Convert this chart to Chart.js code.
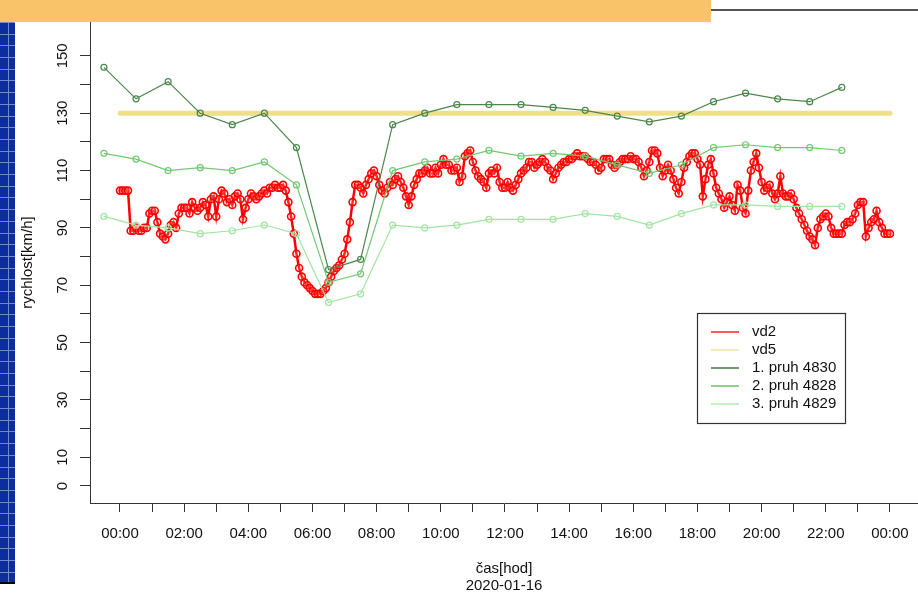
<!DOCTYPE html>
<html><head><meta charset="utf-8">
<script src="https://cdn.jsdelivr.net/npm/chart.js@4.4.1/dist/chart.umd.min.js"></script>
<style>
html,body{margin:0;padding:0;background:#fff;width:918px;height:595px;overflow:hidden;}
#wrap{position:relative;width:918px;height:595px;}
#c{position:absolute;left:0;top:0;}
#topbar{position:absolute;left:0;top:0;width:711px;height:22px;background:#f8c369;}
#topline{position:absolute;left:711px;top:9px;width:207px;height:2px;background:#555;}
#strip{position:absolute;left:0;top:22px;width:15px;height:560px;background-color:#0b2d9e;
background-image:repeating-linear-gradient(to bottom, rgba(130,150,215,0.85) 0 1px, transparent 1px 11.7px),
linear-gradient(to right, transparent 0 8px, rgba(130,150,215,0.85) 8px 9px, transparent 9px);}
#stripEnd{position:absolute;left:0;top:582px;width:15px;height:2px;background:#000;}
</style></head>
<body><div id="wrap">
<canvas id="c" width="918" height="595"></canvas>
<div id="topbar"></div><div id="topline"></div><div id="strip"></div><div id="stripEnd"></div>
</div>
<script>
// ---- data ----
const vd2StepMinutes = 5;
const vd2Values = [
103,103,103,103,89,89,90,89,89,90,90,95,
96,96,92,88,87,86,88,91,92,90,95,97,
97,97,95,99,97,96,97,99,98,94,100,101,
94,100,103,102,99,100,98,101,102,100,93,97,
100,102,101,100,101,102,103,102,104,104,105,104,
104,105,103,99,94,88,81,76,73,71,70,69,
68,67,67,67,68,69,71,73,75,76,77,79,
81,86,92,99,105,105,104,102,105,107,109,110,
108,105,103,102,104,106,105,107,108,106,104,101,
98,101,105,107,109,109,110,111,109,109,111,109,
112,114,112,112,110,110,111,106,108,115,116,117,
113,110,108,107,106,104,109,110,109,111,106,104,
104,106,104,103,105,107,109,110,111,113,113,111,
112,113,114,113,111,110,107,109,111,112,113,113,
114,114,115,116,115,115,115,114,113,113,112,110,
111,114,114,114,112,111,112,113,114,114,114,115,
114,114,113,111,108,110,113,117,117,116,111,108,
110,112,110,107,104,102,106,111,113,115,116,116,
114,112,101,107,112,114,109,104,102,100,97,99,
101,98,96,105,103,97,95,103,110,113,116,111,
106,103,104,105,102,100,102,108,102,101,101,102,
100,97,95,93,91,89,87,86,84,90,93,94,
95,94,90,88,88,88,88,91,92,92,93,95,
98,99,99,87,90,92,93,96,92,90,88,88,
88];
const vd5Hours = [0, 24];
const vd5Values = [130, 130];
const pruhHours = [-0.5,0.5,1.5,2.5,3.5,4.5,5.5,6.5,7.5,8.5,9.5,10.5,11.5,12.5,13.5,14.5,15.5,16.5,17.5,18.5,19.5,20.5,21.5,22.5];
const pruh4830 = [146,135,141,130,126,130,118,75.5,79,126,130,133,133,133,132,131,129,127,129,134,137,135,134,139];
const pruh4828 = [116,114,110,111,110,113,105,71,74,110,113,114,117,115,116,115,112,109,112,118,119,118,118,117];
const pruh4829 = [94,91,90,88,89,91,88,64,67,91,90,91,93,93,93,95,94,91,95,98,98,97.5,97.5,97.5];
const xTickHours = [0,1,2,3,4,5,6,7,8,9,10,11,12,13,14,15,16,17,18,19,20,21,22,23,24];
const xTickLabels = ['00:00','','02:00','','04:00','','06:00','','08:00','','10:00','','12:00','','14:00','','16:00','','18:00','','20:00','','22:00','','00:00'];
const yTickValues = [0,10,20,30,40,50,60,70,80,90,100,110,120,130,140,150];
const yTickLabels = ['0','10','','30','','50','','70','','90','','110','','130','','150'];
const seriesNames = ['vd2','vd5','1. pruh 4830','2. pruh 4828','3. pruh 4829'];
const yTitle = 'rychlost[km/h]';
const xTitle = 'čas[hod]';
const xSubTitle = '2020-01-16';

// ---- styles ----
const FONT = '"Liberation Sans", Arial, Helvetica, sans-serif';
Chart.defaults.font.family = FONT;
const colors = ['#ff0000', '#efde8a', '#4b874b', '#72c872', '#a2e4a2'];
const legendColors = ['#ff2020', '#f0e2a8', '#3f7a3f', '#66c466', '#aeeeae'];

const toXY = (xs, ys) => ys.map((v, i) => ({x: xs[i], y: v}));
const vd2Hours = vd2Values.map((_, i) => i * vd2StepMinutes / 60);

const overlay = {
  id: 'overlay',
  afterDraw(chart) {
    const ctx = chart.ctx, ys = chart.scales.y, a = chart.chartArea;
    ctx.save();
    ctx.fillStyle = '#111';
    ctx.font = '15px ' + FONT;
    ctx.textAlign = 'center';
    ctx.textBaseline = 'middle';
    yTickValues.forEach((v, i) => {
      const lbl = yTickLabels[i];
      if (!lbl) return;
      const py = ys.getPixelForValue(v);
      ctx.save(); ctx.translate(63, py); ctx.rotate(-Math.PI / 2); ctx.fillText(lbl, 0, 0); ctx.restore();
    });
    ctx.save(); ctx.translate(28, (a.top + a.bottom) / 2); ctx.rotate(-Math.PI / 2); ctx.fillText(yTitle, 0, 0); ctx.restore();
    const cx = (a.left + a.right) / 2;
    ctx.fillText(xTitle, cx, 569);
    ctx.fillText(xSubTitle, cx, 586);
    // legend
    const lx = 697, ly = 313, lw = 148, lh = 110;
    ctx.fillStyle = '#fff';
    ctx.fillRect(lx, ly, lw, lh);
    ctx.strokeStyle = '#333'; ctx.lineWidth = 1.2;
    ctx.strokeRect(lx + 0.5, ly + 0.5, lw, lh);
    ctx.textAlign = 'left';
    seriesNames.forEach((n, i) => {
      const yy = 332 + i * 18;
      ctx.strokeStyle = legendColors[i]; ctx.lineWidth = 1.5;
      ctx.beginPath(); ctx.moveTo(711, yy); ctx.lineTo(739, yy); ctx.stroke();
      ctx.fillStyle = '#111';
      ctx.fillText(n, 752, yy);
    });
    ctx.restore();
  }
};

new Chart(document.getElementById('c'), {
  type: 'line',
  data: {
    datasets: [
      {label: seriesNames[0], data: toXY(vd2Hours, vd2Values), order: 5,
       borderColor: colors[0], borderWidth: 2.5, pointRadius: 3.5, pointBorderWidth: 1.6,
       pointBorderColor: colors[0], pointBackgroundColor: 'rgba(255,255,255,0.15)', tension: 0},
      {label: seriesNames[1], data: toXY(vd5Hours, vd5Values), order: 4,
       borderColor: colors[1], borderWidth: 5, borderCapStyle: 'round', pointRadius: 0, tension: 0},
      {label: seriesNames[2], data: toXY(pruhHours, pruh4830), order: 3,
       borderColor: colors[2], borderWidth: 1.2, pointRadius: 3, pointBorderWidth: 1.2,
       pointBorderColor: colors[2], pointBackgroundColor: 'rgba(0,0,0,0)', tension: 0},
      {label: seriesNames[3], data: toXY(pruhHours, pruh4828), order: 2,
       borderColor: colors[3], borderWidth: 1.2, pointRadius: 3, pointBorderWidth: 1.2,
       pointBorderColor: colors[3], pointBackgroundColor: 'rgba(0,0,0,0)', tension: 0},
      {label: seriesNames[4], data: toXY(pruhHours, pruh4829), order: 1,
       borderColor: colors[4], borderWidth: 1.2, pointRadius: 3, pointBorderWidth: 1.2,
       pointBorderColor: colors[4], pointBackgroundColor: 'rgba(0,0,0,0)', tension: 0}
    ]
  },
  options: {
    responsive: false,
    animation: false,
    events: [],
    layout: {autoPadding: false, padding: {top: 22, left: 0, right: 0, bottom: 0}},
    plugins: {legend: {display: false}, tooltip: {enabled: false}, title: {display: false}},
    scales: {
      x: {
        type: 'linear', position: 'bottom', min: -0.935, max: 24.875,
        grid: {display: true, drawOnChartArea: false, drawTicks: true, tickLength: 9, color: '#333', lineWidth: 1},
        border: {display: true, color: '#333', width: 1},
        ticks: {autoSkip: false, maxRotation: 0, minRotation: 0, padding: 13, color: '#111',
                font: {size: 15}, callback: (v, i) => xTickLabels[i]},
        afterBuildTicks: s => { s.ticks = xTickHours.map(v => ({value: v})); },
        afterFit: s => { s.height = 92; s.paddingLeft = 0; s.paddingRight = 0; }
      },
      y: {
        type: 'linear', position: 'left', min: -5.93, max: 161.8,
        grid: {display: true, drawOnChartArea: false, drawTicks: true, tickLength: 10, color: '#333', lineWidth: 1},
        border: {display: true, color: '#333', width: 1},
        ticks: {display: false},
        afterBuildTicks: s => { s.ticks = yTickValues.map(v => ({value: v})); },
        afterFit: s => { s.width = 90; s.paddingTop = 0; s.paddingBottom = 0; }
      }
    }
  },
  plugins: [overlay]
});
</script>
</body></html>
